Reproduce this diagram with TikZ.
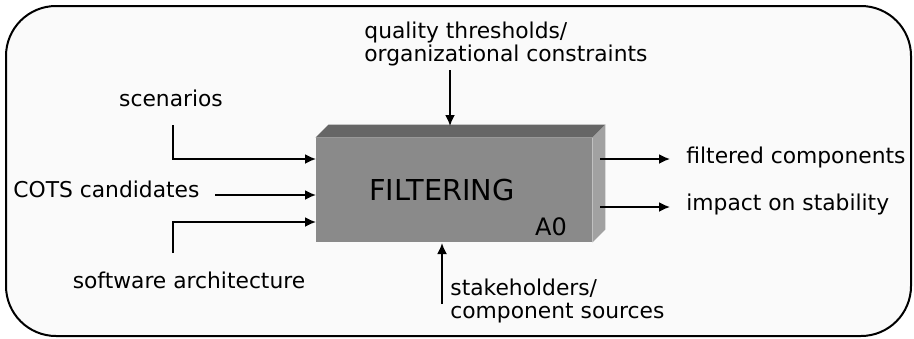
\documentclass[tikz,border=0pt]{standalone}
\usepackage{fontspec}
\setmainfont{DejaVu Sans}
\usetikzlibrary{arrows.meta,calc}
\tikzset{
  flow/.style={line width=0.9pt,-{Latex[length=5.5pt,width=5pt]}},
  lbl/.style={inner sep=0pt,font=\fontsize{10.9}{11.6}\selectfont,align=left},
}

\begin{document}
\begin{tikzpicture}[x=0.5pt,y=-0.5pt]
  %%%%% FRAME %%%%%
  \useasboundingbox (0,0) rectangle (914,338);
  \draw[line width=1pt,fill=black!2,rounded corners=25pt] (6,6) rectangle (911,336);

  %%%%% BOX %%%%%
  \node[fill=black!46,minimum width=138pt,minimum height=52pt,inner sep=0pt] (filt) at (454,190) {};
  \fill[black!60] (filt.north west) -- ++(13,-13) -- ($(filt.north east)+(13,-13)$) -- (filt.north east) -- cycle;
  \fill[black!37] (filt.north east) -- ++(13,-13) -- ($(filt.south east)+(13,-13)$) -- (filt.south east) -- cycle;
  \node[font=\fontsize{14.4}{16}\selectfont] (name) at (442,190) {FILTERING};
  \node[font=\fontsize{12}{14}\selectfont] (code) at (551,227) {A0};

  %%%%% LABELS %%%%%
  \node[lbl] (scen) at (171,98) {scenarios};
  \node[lbl,anchor=west] (cots) at (13,189) {COTS candidates};
  \node[lbl] (arch) at (189,280) {software architecture};
  \node[lbl,anchor=west] (qual) at (364,44) {quality thresholds/\\organizational constraints};
  \node[lbl,anchor=west] (stak) at (450,301) {stakeholders/\\component sources};
  \node[lbl,anchor=west] (outf) at (686,157) {filtered components};
  \node[lbl,anchor=west] (outi) at (686,204) {impact on stability};

  %%%%% ARROWS %%%%%
  \coordinate (scen-a) at (173,125);
  \coordinate (scen-b) at (316,159);
  \coordinate (cots-a) at (215,195);
  \coordinate (cots-b) at (316,195);
  \coordinate (arch-a) at (173,253);
  \coordinate (arch-b) at (316,222);
  \coordinate (qual-a) at (450,70);
  \coordinate (qual-b) at (450,126);
  \coordinate (stak-a) at (442,304);
  \coordinate (stak-b) at (442,243);
  \coordinate (outf-a) at (600,159);
  \coordinate (outf-b) at (670,159);
  \coordinate (outi-a) at (600,207);
  \coordinate (outi-b) at (670,207);

  \draw[flow] (scen-a) |- (scen-b);
  \draw[flow] (cots-a) -- (cots-b);
  \draw[flow] (arch-a) |- (arch-b);
  \draw[flow] (qual-a) -- (qual-b);
  \draw[flow] (stak-a) -- (stak-b);
  \draw[flow] (outf-a) -- (outf-b);
  \draw[flow] (outi-a) -- (outi-b);
\end{tikzpicture}
\end{document}
